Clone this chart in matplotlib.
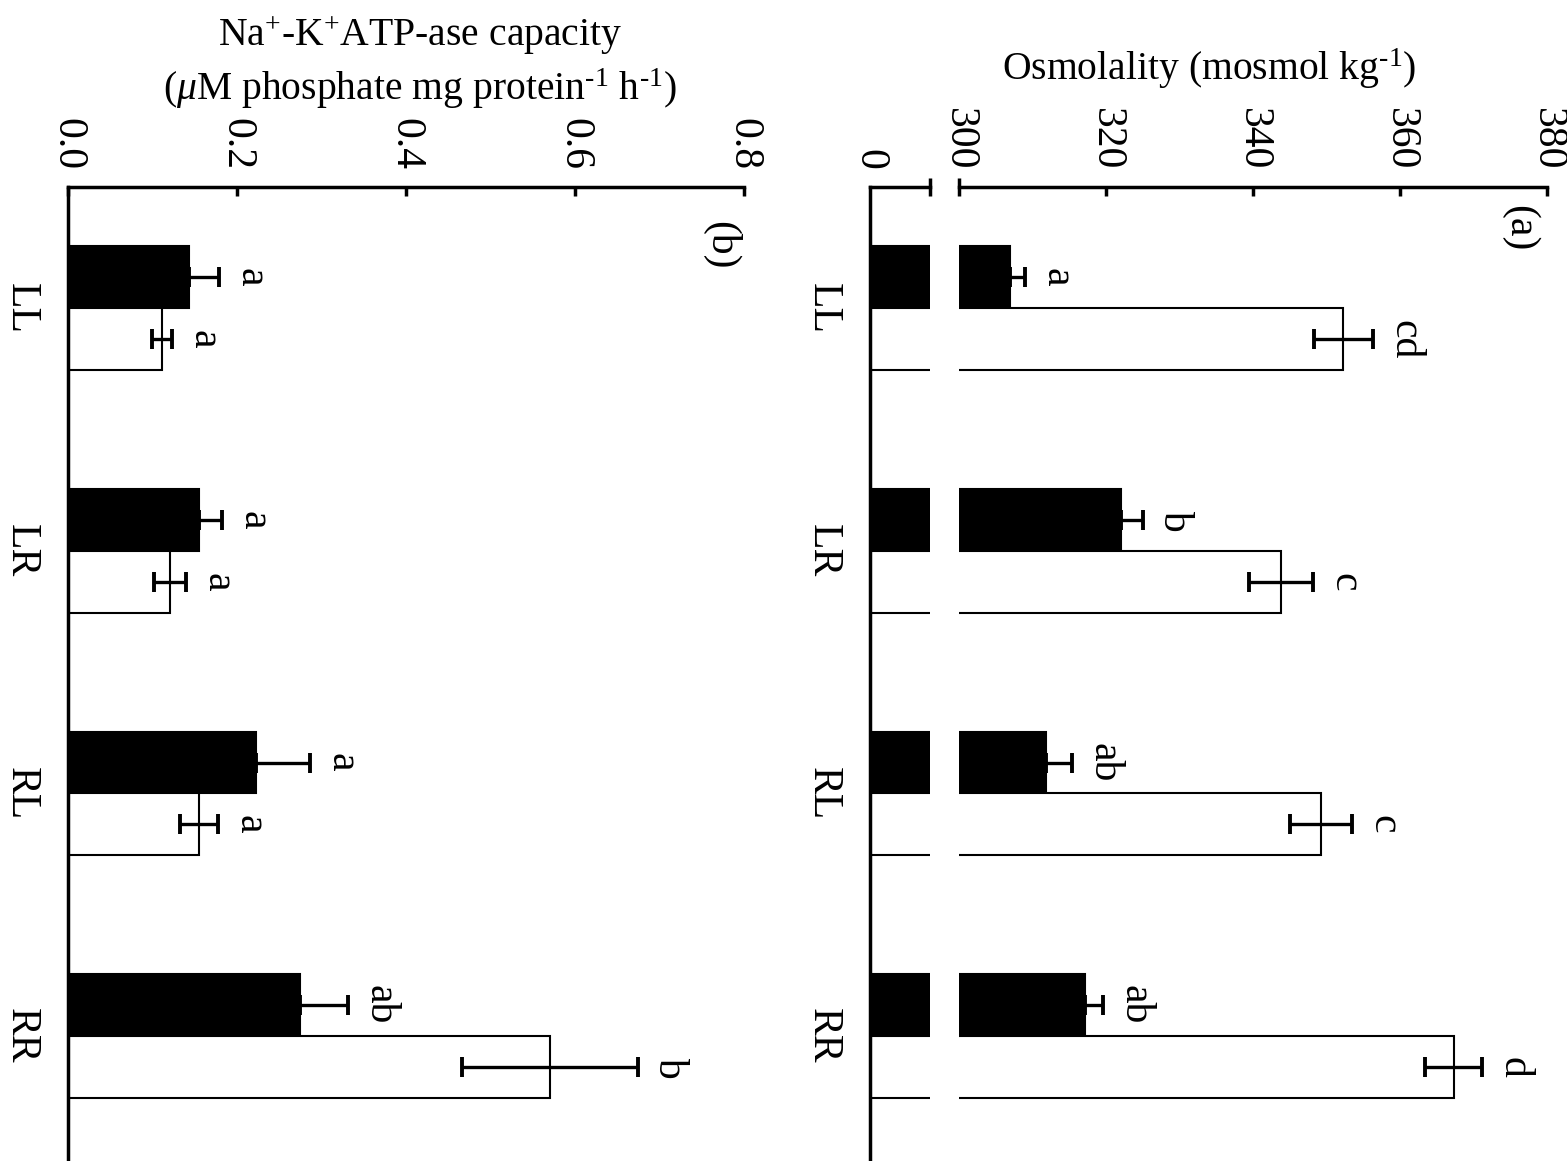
import numpy as np
import matplotlib.pyplot as plt
import matplotlib.transforms as mtransforms
from matplotlib.ticker import FixedLocator, FixedFormatter

plt.rcParams['font.family'] = 'Liberation Serif'
plt.rcParams['mathtext.fontset'] = 'custom'
plt.rcParams['mathtext.rm'] = 'Liberation Serif'
plt.rcParams['mathtext.it'] = 'Liberation Serif:italic'
plt.rcParams['mathtext.bf'] = 'Liberation Serif:bold'

groups = ['LL', 'LR', 'RL', 'RR']

# (a) osmolality, black and white bars
osm_black = [307.0, 322.0, 311.9, 317.2]
osm_black_err = [2.0, 3.0, 3.5, 2.4]
osm_white = [352.3, 343.8, 349.3, 367.3]
osm_white_err = [4.0, 4.4, 4.2, 3.9]
osm_black_letters = ['a', 'b', 'ab', 'ab']
osm_white_letters = ['cd', 'c', 'c', 'd']

# (b) Na+-K+ ATPase capacity
atp_black = [0.143, 0.155, 0.222, 0.274]
atp_black_err = [0.036, 0.027, 0.064, 0.057]
atp_white = [0.111, 0.121, 0.155, 0.570]
atp_white_err = [0.012, 0.019, 0.022, 0.104]
atp_black_letters = ['a', 'a', 'a', 'ab']
atp_white_letters = ['a', 'a', 'a', 'b']

FS = 30
TFS = 28.5
H = 0.255
y = np.arange(len(groups))

fig = plt.figure(figsize=(15.67, 11.61), dpi=100)
top = 1 - 187 / 1161
ax_b = fig.add_axes([68 / 1567, 0, (744 - 68) / 1567, top])
ax_a1 = fig.add_axes([870 / 1567, 0, (930 - 870) / 1567, top])
ax_a2 = fig.add_axes([959 / 1567, 0, (1547 - 959) / 1567, top])


def draw_bars(ax, black, white):
    ax.barh(y - H / 2, black, height=H, color='black', edgecolor='black', linewidth=1.5)
    ax.barh(y + H / 2, white, height=H, color='white', edgecolor='black', linewidth=1.5)


def draw_errors(ax, black, berr, white, werr, bl, wl):
    ax.errorbar(black, y - H / 2, xerr=[np.zeros(len(berr)), berr], fmt='none',
                ecolor='black', elinewidth=2.4, capsize=7.5, capthick=2.8, zorder=4)
    ax.errorbar(white, y + H / 2, xerr=werr, fmt='none',
                ecolor='black', elinewidth=2.4, capsize=7.5, capthick=2.8, zorder=4)
    for i in range(len(groups)):
        ax.annotate(bl[i], xy=(black[i] + berr[i], y[i] - H / 2), xytext=(9, 0),
                    textcoords='offset points', rotation=-90, ha='left', va='center',
                    fontsize=FS)
        ax.annotate(wl[i], xy=(white[i] + werr[i], y[i] + H / 2), xytext=(9, 0),
                    textcoords='offset points', rotation=-90, ha='left', va='center',
                    fontsize=FS)


def style(ax):
    ax.spines['right'].set_visible(False)
    ax.spines['bottom'].set_visible(False)
    ax.spines['top'].set_linewidth(2.5)
    ax.spines['left'].set_linewidth(2.5)
    ax.xaxis.tick_top()
    ax.tick_params(axis='x', which='major', direction='in', length=6.5, width=2.5,
                   labelsize=FS, labelrotation=-90, pad=12)
    ax.set_ylim(3.515, -0.5)


def cat_labels(ax):
    ax.set_yticks(y)
    ax.set_yticklabels(groups, rotation=-90, va='center', fontsize=FS)
    ax.tick_params(axis='y', length=0, pad=20)


# panel (b)
draw_bars(ax_b, atp_black, atp_white)
draw_errors(ax_b, atp_black, atp_black_err, atp_white, atp_white_err,
            atp_black_letters, atp_white_letters)
style(ax_b)
ax_b.set_xlim(0, 0.8)
ax_b.set_xticks([0.0, 0.2, 0.4, 0.6, 0.8])
ax_b.set_xticklabels(['0.0', '0.2', '0.4', '0.6', '0.8'])
cat_labels(ax_b)

# panel (a), broken value axis
draw_bars(ax_a1, osm_black, osm_white)
style(ax_a1)
ax_a1.set_xlim(0, 300)
ax_a1.set_xticks([0])
ax_a1.set_xticklabels(['0'])
ax_a1.tick_params(axis='x', which='major', length=0)
ax_a1.xaxis.set_minor_locator(FixedLocator([300]))
ax_a1.tick_params(axis='x', which='minor', direction='inout', length=13, width=2.5,
                  top=True, bottom=False, labeltop=False)
cat_labels(ax_a1)

draw_bars(ax_a2, osm_black, osm_white)
draw_errors(ax_a2, osm_black, osm_black_err, osm_white, osm_white_err,
            osm_black_letters, osm_white_letters)
style(ax_a2)
ax_a2.spines['left'].set_visible(False)
ax_a2.set_xlim(300, 380)
ax_a2.set_xticks([320, 340, 360, 380])
ax_a2.xaxis.set_minor_locator(FixedLocator([300]))
ax_a2.xaxis.set_minor_formatter(FixedFormatter(['300']))
ax_a2.tick_params(axis='x', which='minor', direction='inout', length=13, width=2.5,
                  top=True, bottom=False, labeltop=True, labelbottom=False,
                  labelsize=FS, labelrotation=-90, pad=12 - 6.5)
ax_a2.set_yticks([])

# panel labels
for ax, lab, xx, yy in [(ax_a2, '(a)', 0.985, -0.33), (ax_b, '(b)', 0.995, -0.26)]:
    tr = mtransforms.blended_transform_factory(ax.transAxes, ax.transData)
    ax.text(xx, yy, lab, transform=tr, ha='right', va='center', rotation=-90, fontsize=FS)

# axis titles (horizontal)
fig.text(1209 / 1567, 1 - 80 / 1161, r'Osmolality (mosmol kg$^{\text{-1}}$)',
         ha='center', va='baseline', fontsize=TFS)
fig.text(420 / 1567, 1 - 46 / 1161, r'Na$^{+}$-K$^{+}$ATP-ase capacity',
         ha='center', va='baseline', fontsize=TFS)
fig.text(420 / 1567, 1 - 100 / 1161,
         r'($\mu$M phosphate mg protein$^{\text{-1}}$ h$^{\text{-1}}$)',
         ha='center', va='baseline', fontsize=TFS)

fig.savefig('out.png', dpi=100)
